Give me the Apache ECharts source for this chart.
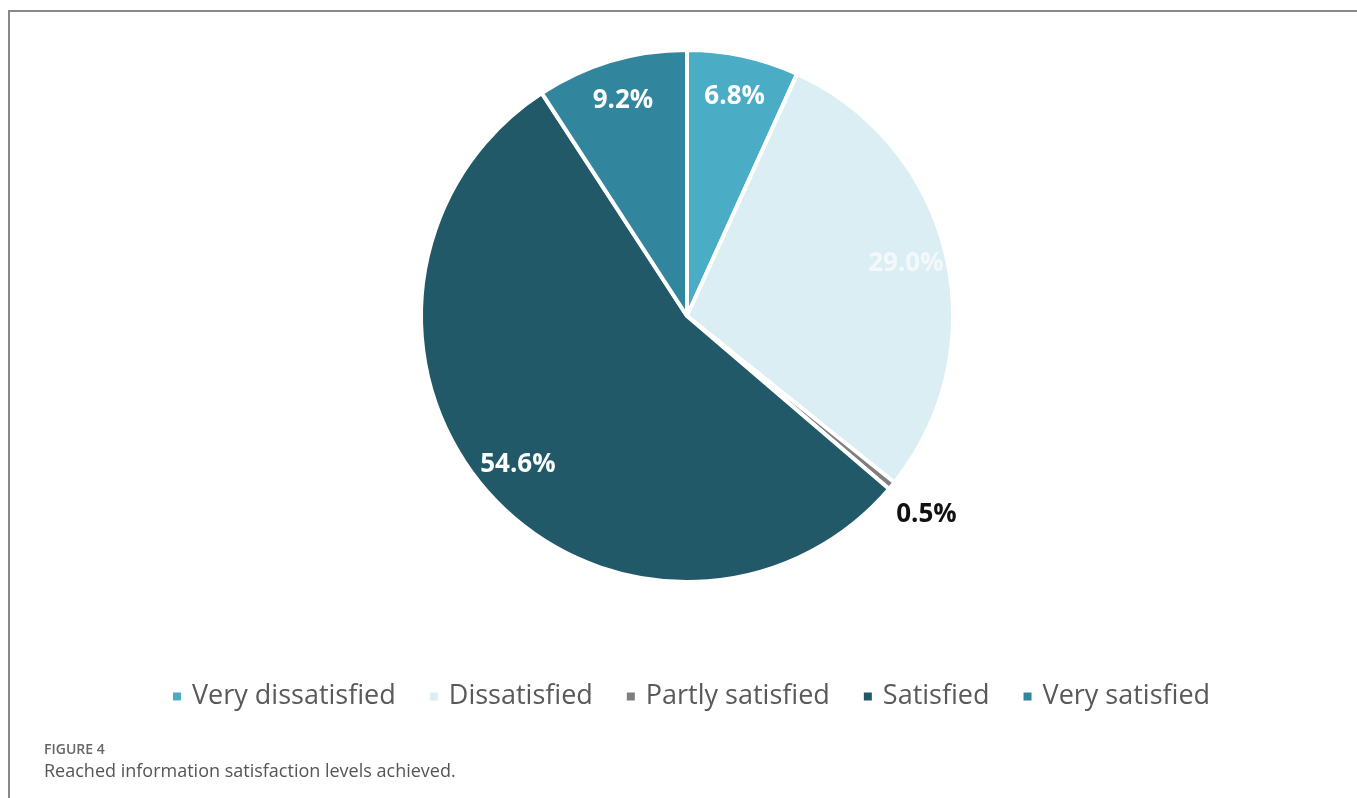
<!DOCTYPE html>
<html>
<head>
<meta charset="utf-8">
<script src="https://cdn.jsdelivr.net/npm/echarts@6/dist/echarts.min.js"></script>
<style>
  html, body { margin: 0; padding: 0; background: #fff; }
  #chart { width: 1357px; height: 798px; }
</style>
</head>
<body>
<div id="chart"></div>
<script>
// data
var categories = ['Very dissatisfied', 'Dissatisfied', 'Partly satisfied', 'Satisfied', 'Very satisfied'];
var shares = [6.8, 29.0, 0.5, 54.6, 9.2];
var sliceColors = ['#4BACC6', '#DAEEF3', '#7F7F7F', '#215968', '#31859C'];

var center = [687, 316];
var R = 266;

var pieData = categories.map(function (name, i) {
  return { name: name, value: shares[i], itemStyle: { color: sliceColors[i] } };
});

// labels drawn on transparent rings so they sit near the rim
var innerLabels = categories.map(function (name, i) {
  return {
    name: name, value: shares[i],
    itemStyle: { color: 'transparent' },
    label: {
      show: shares[i] >= 1,
      color: i === 1 ? '#F3F9FB' : '#FFFFFF'
    }
  };
});
var outerLabels = categories.map(function (name, i) {
  return {
    name: name, value: shares[i],
    itemStyle: { color: 'transparent' },
    label: { show: shares[i] < 1, color: '#111' }
  };
});

var chart = echarts.init(document.getElementById('chart'));
var option = {
  animation: false,
  backgroundColor: '#fff',
  title: [{
    text: 'FIGURE 4',
    left: 39, top: 738,
    textStyle: { fontFamily: 'Open Sans', fontSize: 14, fontWeight: 600, color: '#666' }
  }, {
    text: 'Reached information satisfaction levels achieved.',
    left: 39, top: 758,
    textStyle: { fontFamily: 'Open Sans', fontSize: 18, fontWeight: 'normal', color: '#555' }
  }],
  graphic: [{
    type: 'line', silent: true,
    shape: { x1: 8, y1: 11, x2: 1357, y2: 11 },
    style: { stroke: '#888', lineWidth: 2 }
  }, {
    type: 'line', silent: true,
    shape: { x1: 9, y1: 10, x2: 9, y2: 798 },
    style: { stroke: '#888', lineWidth: 2 }
  }],
  legend: {
    left: 166, top: 678,
    itemWidth: 10, itemHeight: 10,
    itemGap: 32,
    icon: 'rect',
    textStyle: { fontFamily: 'Open Sans', fontSize: 27, color: '#595959', padding: [0, 0, 0, 5] },
    data: categories.map(function (name, i) {
      return { name: name, itemStyle: { color: sliceColors[i] } };
    })
  },
  series: [{
    type: 'pie',
    center: center,
    radius: [0, R],
    startAngle: 90,
    clockwise: true,
    label: { show: false },
    labelLine: { show: false },
    itemStyle: { borderColor: '#fff', borderWidth: 4 },
    data: pieData
  }, {
    type: 'pie',
    silent: true,
    center: center,
    radius: [178, R],
    startAngle: 90,
    clockwise: true,
    labelLine: { show: false },
    label: {
      position: 'inside',
      fontFamily: 'Open Sans', fontSize: 26, fontWeight: 'bold',
      formatter: function (p) { return p.value.toFixed(1) + '%'; }
    },
    itemStyle: { borderWidth: 0 },
    data: innerLabels
  }, {
    type: 'pie',
    silent: true,
    center: center,
    radius: [R, 350],
    startAngle: 90,
    clockwise: true,
    labelLine: { show: false },
    label: {
      position: 'inside',
      fontFamily: 'Open Sans', fontSize: 26, fontWeight: 'bold',
      formatter: function (p) { return p.value.toFixed(1) + '%'; }
    },
    itemStyle: { borderWidth: 0 },
    data: outerLabels
  }]
};
chart.setOption(option);
</script>
</body>
</html>
